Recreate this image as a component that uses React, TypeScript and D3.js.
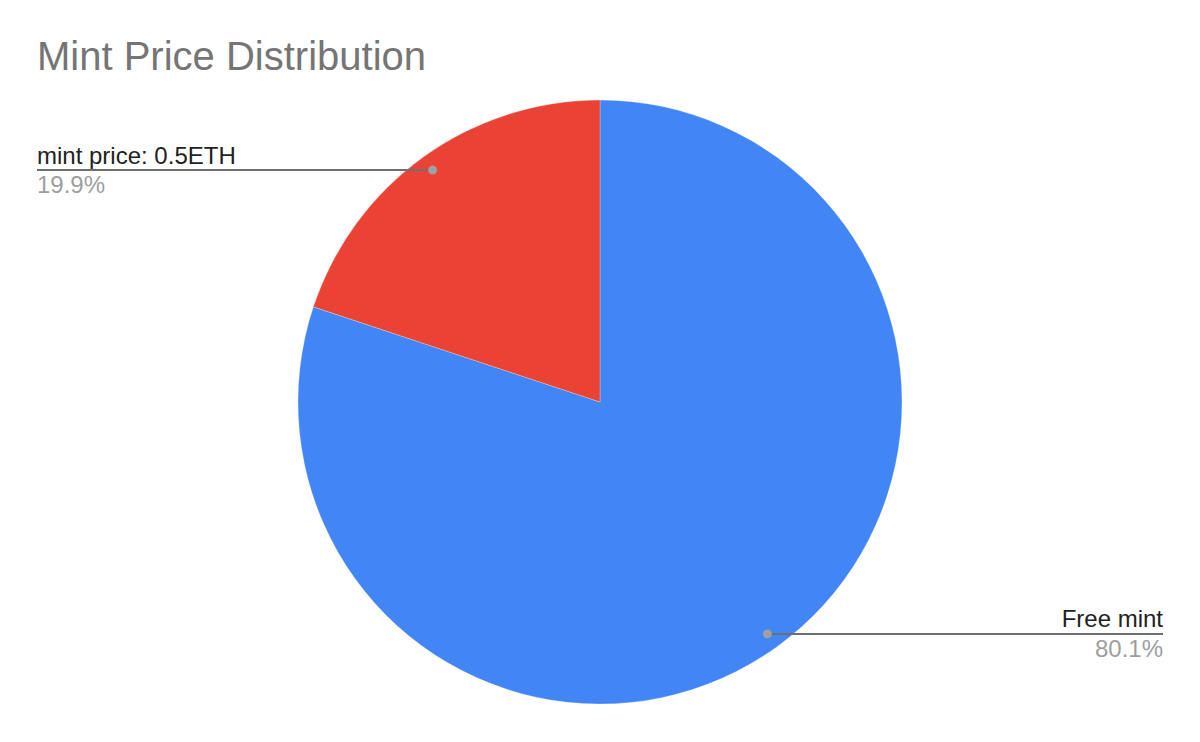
import React from 'react';
import * as d3 from 'd3';

const categories = ['Free mint', 'mint price: 0.5ETH'];
const values = [80.1, 19.9];
const percentLabels = ['80.1%', '19.9%'];
const sliceColors = ['#4285F4', '#EA4335'];

const W = 1200;
const H = 742;
const cx = 600;
const cy = 402;
const radius = 302;
const dotRadius = 286;
const leftEdge = 37;
const rightEdge = 1163;
const font = '"Liberation Sans", Arial, Helvetica, sans-serif';

type Datum = { name: string; value: number; pct: string; color: string };

const App: React.FC = () => {
  const data: Datum[] = categories.map((name, i) => ({
    name,
    value: values[i],
    pct: percentLabels[i],
    color: sliceColors[i],
  }));

  const pie = d3.pie<Datum>().sort(null).value(d => d.value);
  const arcs = pie(data);
  const arc = d3.arc<d3.PieArcDatum<Datum>>().innerRadius(0).outerRadius(radius);
  const dotArc = d3.arc<d3.PieArcDatum<Datum>>().innerRadius(dotRadius).outerRadius(dotRadius);

  return (
    <div style={{ position: 'absolute', left: 0, top: 0 }}>
      <svg width={W} height={H} style={{ display: 'block', background: '#fff' }}>
        <text x={37} y={70} fontFamily={font} fontSize={40} fill="#757575">
          Mint Price Distribution
        </text>
        <g transform={`translate(${cx},${cy})`}>
          {arcs.map((a, i) => (
            <path key={i} d={arc(a) || ''} fill={a.data.color} stroke="#fff" strokeWidth={0.25} />
          ))}
        </g>
        {arcs.map((a, i) => {
          const [dx, dy] = dotArc.centroid(a);
          const px = cx + dx;
          const py = cy + dy;
          const isRight = dx > 0;
          const endX = isRight ? rightEdge : leftEdge;
          const anchor = isRight ? 'end' : 'start';
          return (
            <g key={`lbl-${i}`}>
              <line x1={px} y1={py} x2={endX} y2={py} stroke="#6f6f6f" strokeWidth={2} />
              <circle cx={px} cy={py} r={4.5} fill="#a0a0a0" />
              <text x={endX} y={py - 6.5} textAnchor={anchor} fontFamily={font} fontSize={24} fill="#222">
                {a.data.name}
              </text>
              <text x={endX} y={py + 23} textAnchor={anchor} fontFamily={font} fontSize={24} fill="#9e9e9e">
                {a.data.pct}
              </text>
            </g>
          );
        })}
      </svg>
    </div>
  );
};

export default App;
